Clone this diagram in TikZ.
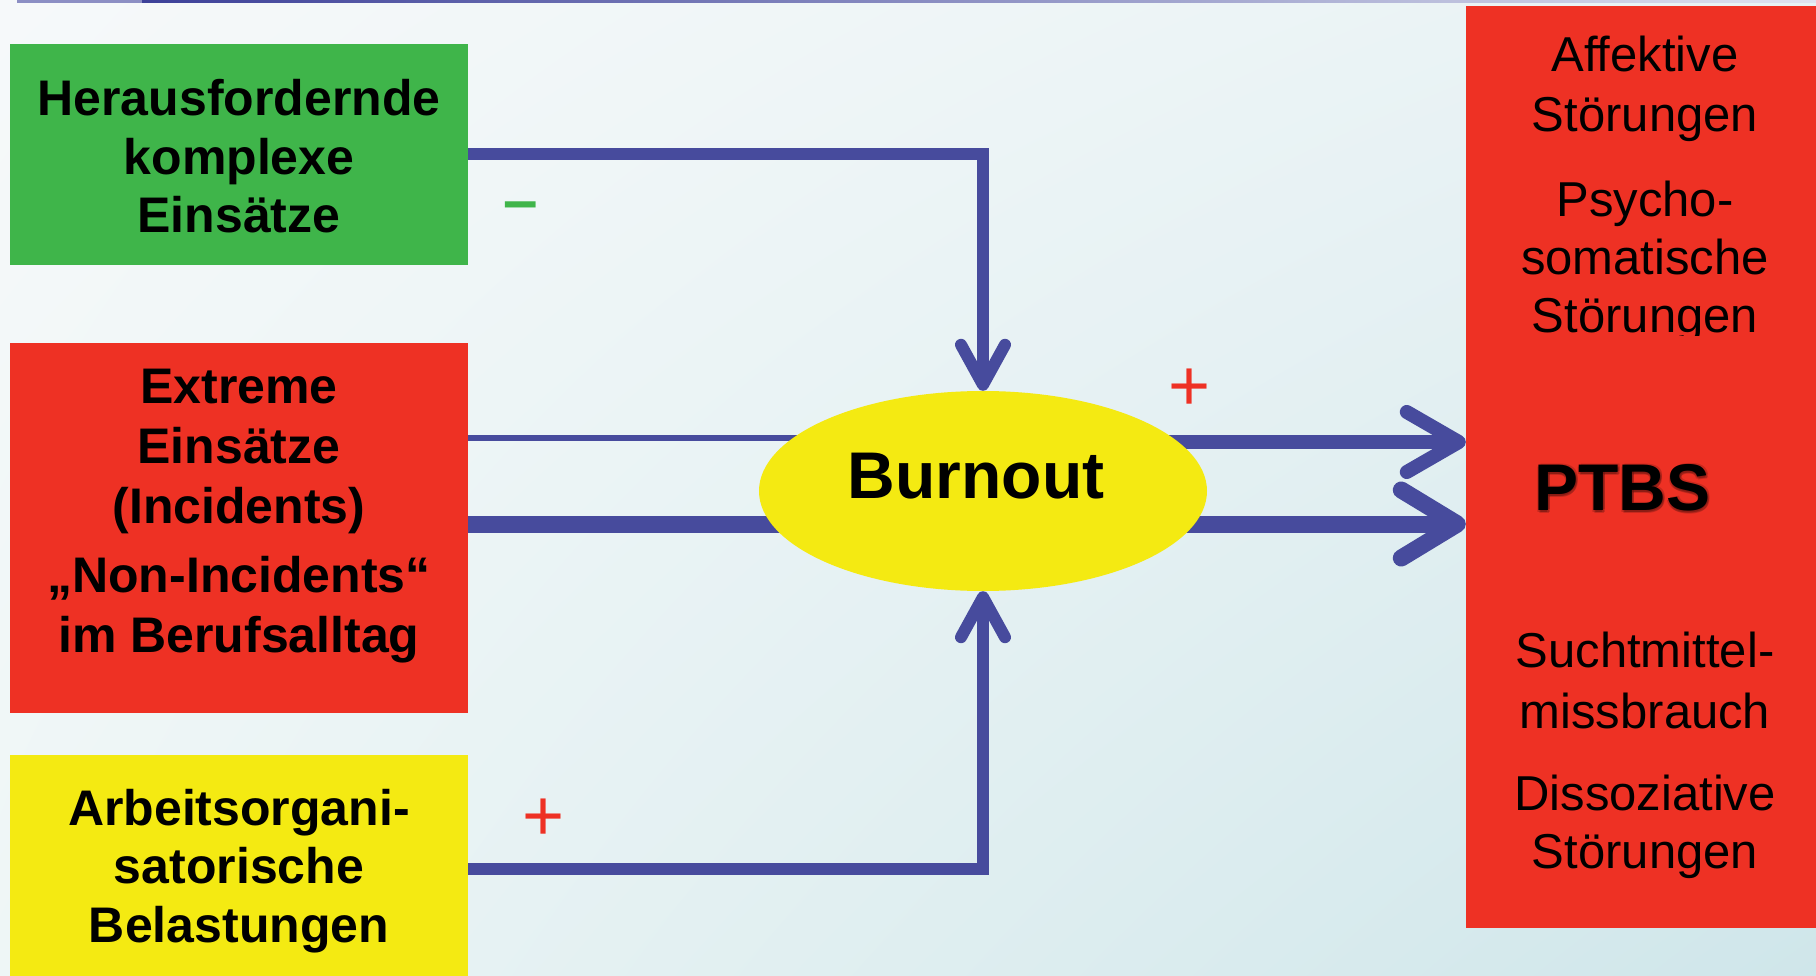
\documentclass[tikz,border=0pt]{standalone}
\usepackage{fontspec}
\setmainfont{Liberation Sans}
\usetikzlibrary{arrows.meta,shapes.geometric,shadings}

\definecolor{wireblue}{RGB}{71,75,157}
\definecolor{boxgreen}{RGB}{63,181,74}
\definecolor{boxred}{RGB}{238,49,36}
\definecolor{boxyellow}{RGB}{244,234,18}
\definecolor{bgUL}{HTML}{F6F9FA}
\definecolor{bgUR}{HTML}{E8F2F4}
\definecolor{bgLL}{HTML}{EEF6F6}
\definecolor{bgLR}{HTML}{CFE6EA}
\definecolor{ruleDark}{HTML}{3D4199}
\definecolor{ruleLight}{HTML}{E0E3F0}
\definecolor{ruleMid}{HTML}{8C8FC4}

\pgfdeclarelayer{paper}
\pgfdeclarelayer{wires}
\pgfsetlayers{paper,wires,main}

\begin{document}
\begin{tikzpicture}[x=1pt,y=-1pt,
  srcbox/.style={rectangle, inner sep=0pt, minimum width=458pt},
  boldlines/.style={anchor=base, align=center, inner sep=0pt,
    font=\bfseries\fontsize{50pt}{58.5pt}\selectfont},
  plainlines/.style={anchor=base, align=center, inner sep=0pt,
    font=\fontsize{49pt}{58pt}\selectfont},
  wire/.style={draw=wireblue, line cap=butt, line join=miter},
  sign/.style={anchor=base, inner sep=0pt},
]
\useasboundingbox (0,0) rectangle (1816,976);

% soft backdrop and thin rule along the top edge
\begin{pgfonlayer}{paper}
  \shade[upper left=bgUL, upper right=bgUR, lower left=bgLL, lower right=bgLR]
    (0,0) rectangle (1816,976);
  \fill[ruleMid] (17,0) rectangle (142,3);
  \shade[left color=ruleDark, right color=ruleLight] (142,0) rectangle (1816,3);
\end{pgfonlayer}

% stress sources on the left (text nodes are placed by their last baseline)
\node[srcbox, fill=boxgreen, minimum height=221pt] (chal) at (239,154.5) {};
\node[boldlines] (chal-t) at (239,233) {Herausfordernde\\komplexe\\Einsätze};

\node[srcbox, fill=boxred, minimum height=370pt] (extreme) at (239,528) {};
\node[boldlines, font=\bfseries\fontsize{50pt}{60pt}\selectfont] (extreme-t) at (239,652)
  {Extreme\\Einsätze\\(Incidents)\\[9pt]„Non-Incidents“\\im Berufsalltag};

\node[srcbox, fill=boxyellow, minimum height=227pt] (work) at (239,868.5) {};
\node[boldlines] (work-t) at (239,942)
  {Arbeitsorgani-\\satorische\\Belastungen};

% central node
\node[ellipse, fill=boxyellow, inner sep=0pt, minimum width=448pt, minimum height=200pt,
  font=\bfseries\fontsize{66pt}{66pt}\selectfont, text height=47pt, text depth=33pt]
  (burnout) at (983,491) {Burnout\kern14pt};

% consequences on the right
\node[rectangle, fill=boxred, inner sep=0pt, minimum width=350pt, minimum height=922pt]
  (ptbsbox) at (1641,467) {};
\node[plainlines, font=\fontsize{49pt}{60pt}\selectfont] (aff) at (1645,132) {Affektive\\Störungen};
\begin{scope}
  \clip (1466,0) rectangle (1816,336);
  \node[plainlines] (psy) at (1645,333) {Psycho-\\somatische\\Störungen};
\end{scope}
\foreach \dx/\dy [count=\i] in {2/2, -1/2, 2/-1, 1/3} {
  \node[anchor=base, inner sep=0pt, text=black, opacity=0.16,
    font=\bfseries\fontsize{66pt}{66pt}\selectfont] (ptbs-glow-\i) at (1622+\dx,510+\dy) {PTBS};
}
\node[anchor=base, inner sep=0pt, font=\bfseries\fontsize{66pt}{66pt}\selectfont]
  (ptbs) at (1622,510) {PTBS};
\node[plainlines, font=\fontsize{49pt}{61pt}\selectfont] (sucht) at (1645,728) {Suchtmittel-\\missbrauch};
\node[plainlines] (diss) at (1645,868) {Dissoziative\\Störungen};

% effect signs
\node[sign, text=boxgreen, font=\bfseries\fontsize{62pt}{62pt}\selectfont] (neg) at (521,222) {–};
\node[sign, text=boxred, font=\fontsize{72pt}{72pt}\selectfont] (pos-up) at (1190,410) {+};
\node[sign, text=boxred, font=\fontsize{72pt}{72pt}\selectfont] (pos-low) at (544,840) {+};

% connector anchor points
\coordinate (l1) at ([yshift=90pt]extreme.east);
\coordinate (l2) at ([yshift=4pt]extreme.east);
\coordinate (r1) at ([yshift=25pt]ptbsbox.west);
\coordinate (r2) at ([yshift=-57pt]ptbsbox.west);

\begin{pgfonlayer}{wires}
  \draw[wire, line width=12pt, -{Straight Barb[round,length=40pt,width=44pt]}]
    (chal.east) -| (burnout.north);
  \draw[wire, line width=12pt, -{Straight Barb[round,length=40pt,width=44pt]}]
    (work.east) -| (burnout.south);
  \draw[wire, line width=6pt] (l1) -- (l1 -| burnout.center);
  \draw[wire, line width=17pt] (l2) -- (l2 -| burnout.center);
  \draw[wire, line width=14pt, -{Straight Barb[round,length=52pt,width=60pt]}]
    (r1 -| burnout.center) -- (r1);
  \draw[wire, line width=17pt, -{Straight Barb[round,length=56pt,width=68pt]}]
    (r2 -| burnout.center) -- (r2);
\end{pgfonlayer}
\end{tikzpicture}
\end{document}
